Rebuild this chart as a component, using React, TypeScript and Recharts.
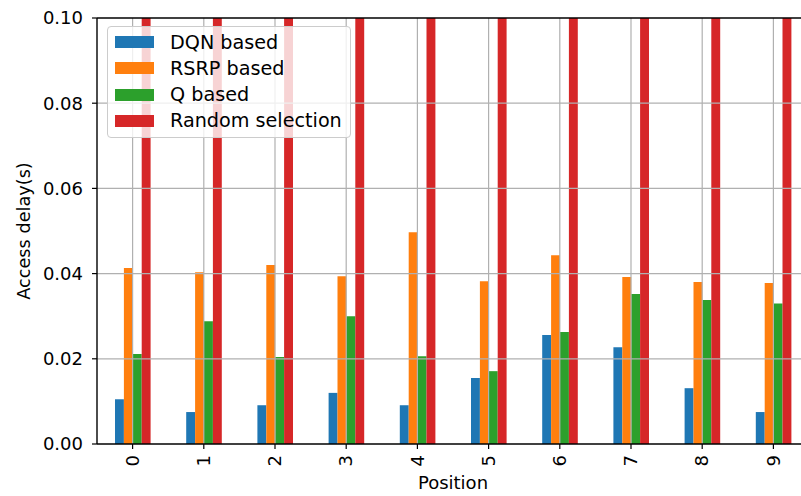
import { BarChart, Bar, XAxis, YAxis, ReferenceLine } from 'recharts';

const positions = ['0', '1', '2', '3', '4', '5', '6', '7', '8', '9'];
const dqnBased = [0.0105, 0.0075, 0.0091, 0.012, 0.0091, 0.0155, 0.0256, 0.0227, 0.0131, 0.0075];
const rsrpBased = [0.0413, 0.0403, 0.042, 0.0394, 0.0497, 0.0382, 0.0443, 0.0392, 0.038, 0.0378];
const qBased = [0.0211, 0.0288, 0.0204, 0.03, 0.0206, 0.0171, 0.0263, 0.0352, 0.0338, 0.033];
const randomSelection = [0.25, 0.25, 0.25, 0.25, 0.25, 0.25, 0.25, 0.25, 0.25, 0.25];
const yTicks = [0, 0.02, 0.04, 0.06, 0.08, 0.1];

const SERIES = [
  { key: 'dqn', name: 'DQN based', color: '#1f77b4', values: dqnBased },
  { key: 'rsrp', name: 'RSRP based', color: '#ff7f0e', values: rsrpBased },
  { key: 'q', name: 'Q based', color: '#2ca02c', values: qBased },
  { key: 'random', name: 'Random selection', color: '#d62728', values: randomSelection },
];

const data = positions.map((p, i) => {
  const row: Record<string, any> = { position: p };
  SERIES.forEach((s) => {
    row[s.key] = s.values[i];
  });
  return row;
});

const FONT = '"DejaVu Sans", sans-serif';
const GRID = '#b0b0b0';

function XTick({ x, y, payload }: any) {
  const y0 = y + 4;
  return (
    <text
      x={x}
      y={y0}
      transform={`rotate(-90, ${x}, ${y0})`}
      textAnchor="end"
      dy="0.35em"
      fontSize={18}
      fontFamily={FONT}
      fill="#000"
    >
      {payload.value}
    </text>
  );
}

export default function App() {
  return (
    <div style={{ position: 'absolute', left: 0, top: 0, width: 801, height: 496, overflow: 'hidden', background: '#fff' }}>
      <BarChart
        width={812}
        height={496}
        data={data}
        margin={{ top: 18, right: 3, left: 0, bottom: 0 }}
        barSize={8.9}
        barGap={0}
      >
        {SERIES.map((s) => (
          <Bar key={s.key} dataKey={s.key} name={s.name} fill={s.color} isAnimationActive={false} />
        ))}
        {positions.map((p) => (
          <ReferenceLine key={`gx-${p}`} x={p} stroke={GRID} strokeWidth={1.2} />
        ))}
        {yTicks.slice(1, -1).map((t) => (
          <ReferenceLine key={`gy-${t}`} y={t} stroke={GRID} strokeWidth={1.2} />
        ))}
        <XAxis
          dataKey="position"
          height={52}
          tick={<XTick />}
          tickSize={5}
          tickLine={{ stroke: '#000', strokeWidth: 1.2 }}
          axisLine={{ stroke: '#000', strokeWidth: 1.4 }}
          label={{ value: 'Position', position: 'insideBottom', offset: 7, fontSize: 18, fontFamily: FONT, fill: '#000' }}
        />
        <YAxis
          width={97}
          domain={[0, 0.1]}
          allowDataOverflow
          ticks={yTicks}
          tickFormatter={(v: number) => v.toFixed(2)}
          tickSize={5}
          tickMargin={9}
          tick={{ fontSize: 18, fontFamily: FONT, fill: '#000' }}
          tickLine={{ stroke: '#000', strokeWidth: 1.2 }}
          axisLine={{ stroke: '#000', strokeWidth: 1.4 }}
          label={{ value: 'Access delay(s)', angle: -90, position: 'insideLeft', offset: 24, fontSize: 17.7, fontFamily: FONT, fill: '#000', style: { textAnchor: 'middle' } }}
        />
        <ReferenceLine y={0.1} stroke="#000" strokeWidth={1.4} />
      </BarChart>
      <div
        style={{
          position: 'absolute',
          left: 107,
          top: 26,
          width: 244,
          height: 112,
          boxSizing: 'border-box',
          border: '1px solid #cccccc',
          borderRadius: 4,
          background: 'rgba(255,255,255,0.8)',
          paddingTop: 2,
          fontFamily: FONT,
          fontSize: 19.2,
        }}
      >
        {SERIES.map((s) => (
          <div key={s.key} style={{ display: 'flex', alignItems: 'center', height: 26.3 }}>
            <div style={{ width: 39, height: 12, background: s.color, marginLeft: 7, marginRight: 16 }} />
            <span style={{ lineHeight: 1, color: '#000', whiteSpace: 'nowrap' }}>{s.name}</span>
          </div>
        ))}
      </div>
    </div>
  );
}
